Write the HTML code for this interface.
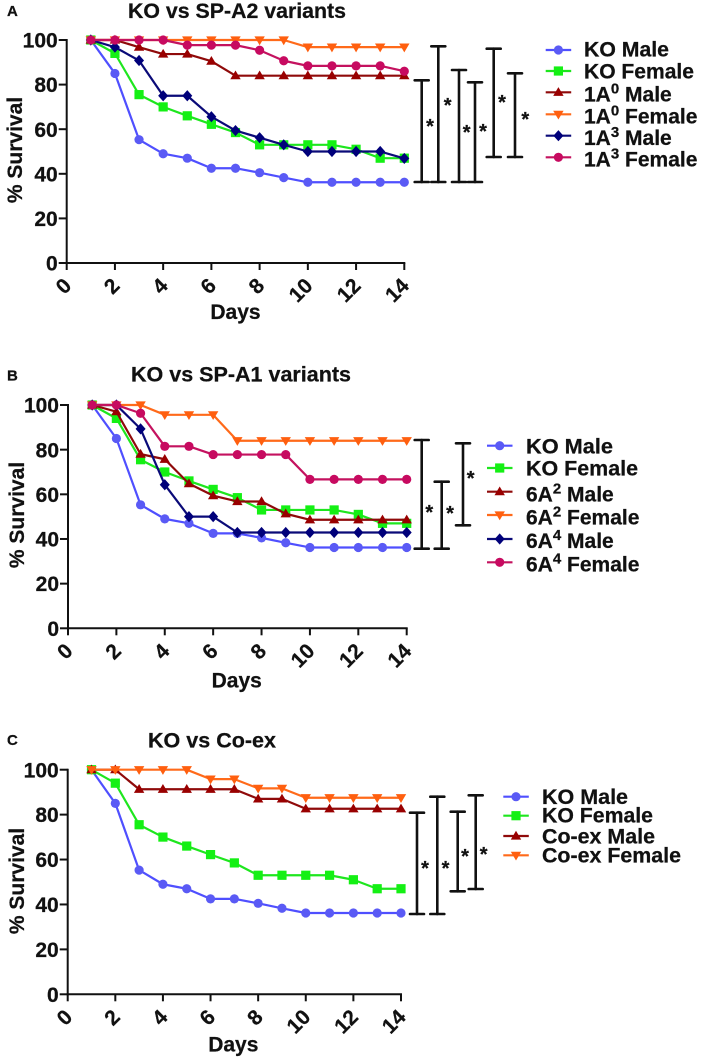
<!DOCTYPE html>
<html lang="en">
<head>
<meta charset="utf-8">
<title>Survival charts</title>
<style>
html,body{margin:0;padding:0;background:#fff;}
svg{display:block;font-family:"Liberation Sans",sans-serif;font-weight:bold;fill:#111;}
svg text{stroke:#111;stroke-width:0.25px;}
</style>
</head>
<body>
<svg id="figure" width="702" height="1059" viewBox="0 0 702 1059" xmlns="http://www.w3.org/2000/svg"></svg>
<script>
// ---- Shared axis data ----
const days = [1,2,3,4,5,6,7,8,9,10,11,12,13,14];
const xTickLabels = [0,2,4,6,8,10,12,14];
const yTickLabels = [0,20,40,60,80,100];

// ---- Series values (% survival by day) ----
const koMale      = [100,85,55.3,49,47,42.5,42.5,40.5,38.3,36.2,36.2,36.2,36.2,36.2];
const koFemale    = [100,94,75.5,70,66,62.2,58.5,53,53,53,53,51,47,47];
const a10Male     = [100,100,96.8,93.7,93.7,90.5,84,84,84,84,84,84,84,84];
const a10Female   = [100,100,100,100,100,100,100,100,100,96.8,96.8,96.8,96.8,96.8];
const a13Male     = [100,96.8,90.8,75,75,65.6,59.4,56.2,53,50,50,50,50,46.9];
const a13Female   = [100,100,100,100,97.7,97.7,97.7,95.4,90.7,88.4,88.4,88.4,88.4,86];
const a62Male     = [100,97,78,75.7,64.8,59.4,56.8,56.8,51.3,48.6,48.6,48.6,48.6,48.6];
const a62Female   = [100,100,100,95.6,95.6,95.6,84,84,84,84,84,84,84,84];
const a64Male     = [100,100,89.3,64.3,50,50,42.9,42.9,42.9,42.9,42.9,42.9,42.9,42.9];
const a64Female   = [100,100,96.3,81.5,81.5,77.8,77.8,77.8,77.8,66.7,66.7,66.7,66.7,66.7];
const coexMale    = [100,100,91.3,91.3,91.3,91.3,91.3,87,87,82.6,82.6,82.6,82.6,82.6];
const coexFemale  = [100,100,100,100,100,95.8,95.8,91.7,91.7,87.5,87.5,87.5,87.5,87.5];

// ---- Series names ----
const namesA = [["KO Male"],["KO Female"],["1A","0"," Male"],["1A","0"," Female"],["1A","3"," Male"],["1A","3"," Female"]];
const namesB = [["KO Male"],["KO Female"],["6A","2"," Male"],["6A","2"," Female"],["6A","4"," Male"],["6A","4"," Female"]];
const namesC = [["KO Male"],["KO Female"],["Co-ex Male"],["Co-ex Female"]];

const valuesA = [koMale,koFemale,a10Male,a10Female,a13Male,a13Female];
const valuesB = [koMale,koFemale,a62Male,a62Female,a64Male,a64Female];
const valuesC = [koMale,koFemale,coexMale,coexFemale];

const NS = "http://www.w3.org/2000/svg";
const root = document.getElementById("figure");
const STYLE = [
  {c:"#4f4fff",f:"#5a5af5",m:"circle"},
  {c:"#1ee61e",f:"#14f014",m:"square"},
  {c:"#8f0a0a",f:"#990000",m:"up"},
  {c:"#ff6a1a",f:"#ff5f0f",m:"down"},
  {c:"#0a0a78",f:"#00007a",m:"diamond"},
  {c:"#c4125f",f:"#c70a60",m:"circle"}
];

function make(tag, parent, attrs){
  const el = document.createElementNS(NS, tag);
  for (const k in attrs) el.setAttribute(k, attrs[k]);
  parent.appendChild(el);
  return el;
}
function slug(parts){
  return parts.join("").trim().toLowerCase().replace(/[^a-z0-9]+/g,"-");
}
function drawMarker(parent, kind, x, y, fill, scale){
  const s = scale || 1;
  let el;
  if (kind === "circle") {
    el = make("circle", parent, {cx:x, cy:y, r:4.6*s, fill:fill});
  } else if (kind === "square") {
    el = make("rect", parent, {x:x-4.6*s, y:y-4.6*s, width:9.2*s, height:9.2*s, fill:fill});
  } else {
    let p;
    if (kind === "up") p = [[x,y-5.2*s],[x+5.2*s,y+3.6*s],[x-5.2*s,y+3.6*s]];
    if (kind === "down") p = [[x,y+5.2*s],[x+5.2*s,y-3.6*s],[x-5.2*s,y-3.6*s]];
    if (kind === "diamond") p = [[x,y-5.6*s],[x+5*s,y],[x,y+5.6*s],[x-5*s,y]];
    el = make("polygon", parent, {points:p.map(q=>q.join(",")).join(" "), fill:fill});
  }
  
  
  return el;
}
function label(parent, txt, x, y, size, anchor, width){
  const attrs = {x:x, y:y, "font-size":size, "text-anchor":anchor||"start"};
  if (width) { attrs.textLength = width; attrs.lengthAdjust = "spacingAndGlyphs"; }
  const t = make("text", parent, attrs);
  t.textContent = txt;
  return t;
}

function drawPanel(p){
  const g = make("g", root, {});
  
  

  const sx = d => p.x0 + (p.x14 - p.x0) * d / 14;
  const sy = v => p.y0 + (p.y100 - p.y0) * v / 100;

  const letter = label(g, p.letter, 7, p.letterY, 15);
  
  

  const title = label(g, p.title, p.titleX, p.titleY, 21, "start", p.titleW);
  
  

  const axes = make("g", g, {stroke:"#111", "stroke-width":2, fill:"none"});
  
  
  make("line", axes, {x1:p.x0, x2:p.x0, y1:sy(100)-1, y2:p.y0+1});
  make("line", axes, {x1:p.x0-1, x2:sx(14)+1, y1:p.y0, y2:p.y0});

  yTickLabels.forEach(v => {
    make("line", axes, {x1:p.x0-8, x2:p.x0, y1:sy(v), y2:sy(v)});
    const t = label(g, String(v), p.x0-9, sy(v)+7.6, 21, "end");
    
    
  });
  xTickLabels.forEach(v => {
    make("line", axes, {x1:sx(v), x2:sx(v), y1:p.y0, y2:p.y0+7});
    const ax = sx(v) + 6, ay = p.y0 + 24;
    const t = label(g, String(v), ax, ay, 21, "end");
    t.setAttribute("transform", "rotate(-45 " + ax + " " + ay + ")");
    
    
  });

  const yt = label(g, "% Survival", 0, 0, 21, "middle");
  yt.setAttribute("transform", "translate(" + p.yTitleX + " " + p.yTitleY + ") rotate(-90)");
  
  

  const xt = label(g, "Days", p.xTitleX, p.xTitleY, 21, "middle");
  
  

  p.values.forEach((vals, i) => {
    const st = STYLE[i];
    const sg = make("g", g, {});
    
    
    const pl = make("polyline", sg, {
      points: vals.map((v,k) => sx(days[k]) + "," + sy(v)).join(" "),
      fill:"none", stroke:st.c, "stroke-width":2.2, "stroke-linejoin":"round"
    });
    
    
    vals.forEach((v,k) => drawMarker(sg, st.m, sx(days[k]), sy(v), st.f));
  });

  p.brackets.forEach(b => {
    const bg = make("g", g, {});
    
    
    const lines = make("g", bg, {stroke:"#111", "stroke-width":2.6, fill:"none", "stroke-linecap":"round"});
    make("line", lines, {x1:b[0], x2:b[0], y1:b[1], y2:b[2]});
    make("line", lines, {x1:b[0]-7, x2:b[0]+7, y1:b[1], y2:b[1]});
    make("line", lines, {x1:b[0]-7, x2:b[0]+7, y1:b[2], y2:b[2]});
    const s = label(bg, "*", b[3], b[4]+9, 20, "middle");
    
    
  });

  p.names.forEach((parts, i) => {
    const st = STYLE[i];
    const lg = make("g", g, {});
    
    
    const ly = p.legendLines[i];
    make("line", lg, {x1:p.legX, x2:p.legX+25.5, y1:ly, y2:ly, stroke:st.c, "stroke-width":2.2});
    drawMarker(lg, st.m, p.legX+12.7, ly, st.f, 1);
    const t = make("text", lg, {x:p.legTextX, y:p.legendBase[i], "font-size":21});
    
    
    if (parts.length === 1) {
      t.textContent = parts[0];
      t.setAttribute("textLength", p.legWidths[i]);
      t.setAttribute("lengthAdjust", "spacingAndGlyphs");
    } else {
      const a = make("tspan", t, {});
      a.textContent = parts[0];
      const b = make("tspan", t, {dy:-8, "font-size":15});
      b.textContent = parts[1];
      const c = make("tspan", t, {dy:8});
      c.textContent = parts[2];
    }
  });
}

drawPanel({
  id:"a", letter:"A", letterY:16, title:"KO vs SP-A2 variants", titleX:128, titleY:18, titleW:218,
  x0:66.7, x14:404.3, y0:263, y100:40,
  yTitleX:22, yTitleY:150, xTitleX:235.5, xTitleY:319,
  values:valuesA, names:namesA,
  legX:545.7, legTextX:584, legWidths:[85,110,0,0,0,0],
  legendLines:[50,71,92.3,114.3,135.7,157.3],
  legendBase:[56.7,78.7,101.7,123.3,145,166.7],
  brackets:[[421.7,80.3,182,430,124],[438.3,46.3,182,447.7,103],[459,70,182,466.7,130],
            [475,82.3,182,483,129],[493.7,48.7,157,502,100],[515,73.3,157,525.3,117]]
});
drawPanel({
  id:"b", letter:"B", letterY:380.5, title:"KO vs SP-A1 variants", titleX:131, titleY:381.7, titleW:220,
  x0:68, x14:406.7, y0:628.3, y100:405,
  yTitleX:24, yTitleY:515, xTitleX:236.7, xTitleY:687.7,
  values:valuesB, names:namesB,
  legX:487, legTextX:526, legWidths:[87,112,0,0,0,0],
  legendLines:[445.7,468,491.7,515,539,562.3],
  legendBase:[453.3,475.3,501.3,524.3,548,571.3],
  brackets:[[421.7,440,548.7,429.3,510],[441.7,481.7,548.7,450,511],[463,443.3,525.3,470.7,476]]
});
drawPanel({
  id:"c", letter:"C", letterY:745, title:"KO vs Co-ex", titleX:148, titleY:747.3, titleW:128,
  x0:67.7, x14:401, y0:994.3, y100:769.7,
  yTitleX:24, yTitleY:881, xTitleX:233.3, xTitleY:1051.7,
  values:valuesC, names:namesC,
  legX:503.3, legTextX:542, legWidths:[86,111,113,139],
  legendLines:[796.7,815.7,836,855.3],
  legendBase:[804,822.3,843.3,862.7],
  brackets:[[417,812.7,914,425,866],[437.3,796.7,914,445.5,866],[457.7,811.7,891.3,465,854],[475.7,795.3,889,483.7,852]]
});
</script>
</body>
</html>
